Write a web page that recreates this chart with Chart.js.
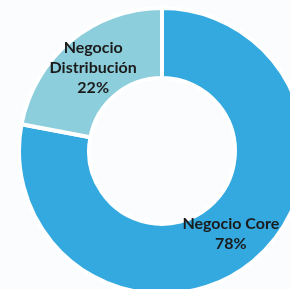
<!DOCTYPE html>
<html>
<head>
<meta charset="utf-8">
<script src="https://cdn.jsdelivr.net/npm/chart.js@4/dist/chart.umd.min.js"></script>
<style>
    html, body {
        margin: 0;
        padding: 0;
        width: 290px;
        height: 289px;
        overflow: hidden;
        background: #fafcfd;
    }
    #wrap {
        position: absolute;
        left: 0;
        top: 0;
        width: 307px;
        height: 296px;
    }
</style>
</head>
<body>
<div id="wrap"><canvas id="donutChart"></canvas></div>
<script>
// Chart data
const categories = ['Negocio Core', 'Negocio Distribución'];
const labelLines = [['Negocio Core', '78%'], ['Negocio', 'Distribución', '22%']];
const shares = [78, 22];
const sliceColors = ['#33a9df', '#8ccedb'];

/**
 * Draws the slice labels in the middle of each ring segment
 */
const sliceLabels = {
    id: 'sliceLabels',
    afterDatasetsDraw(chart) {
        const ctx = chart.ctx;
        const meta = chart.getDatasetMeta(0);
        const lineHeight = 20;

        ctx.save();
        ctx.font = 'bold 16px Lato, "Open Sans", sans-serif';
        ctx.fillStyle = '#1b1b1b';
        ctx.textAlign = 'center';
        ctx.textBaseline = 'middle';

        meta.data.forEach((arc, i) => {
            const pos = arc.tooltipPosition();
            const lines = labelLines[i];
            const startY = pos.y - (lines.length - 1) * lineHeight / 2;
            lines.forEach((line, j) => {
                ctx.fillText(line, pos.x, startY + j * lineHeight);
            });
        });
        ctx.restore();
    }
};

new Chart(document.getElementById('donutChart'), {
    type: 'doughnut',
    data: {
        labels: categories,
        datasets: [{
            data: shares,
            backgroundColor: sliceColors,
            borderColor: '#ffffff',
            borderWidth: 4
        }]
    },
    options: {
        responsive: true,
        maintainAspectRatio: false,
        animation: false,
        cutout: '51%',
        layout: {
            padding: { left: 17, top: 6, right: 0, bottom: 0 }
        },
        plugins: {
            legend: { display: false },
            tooltip: { enabled: false }
        }
    },
    plugins: [sliceLabels]
});
</script>
</body>
</html>
